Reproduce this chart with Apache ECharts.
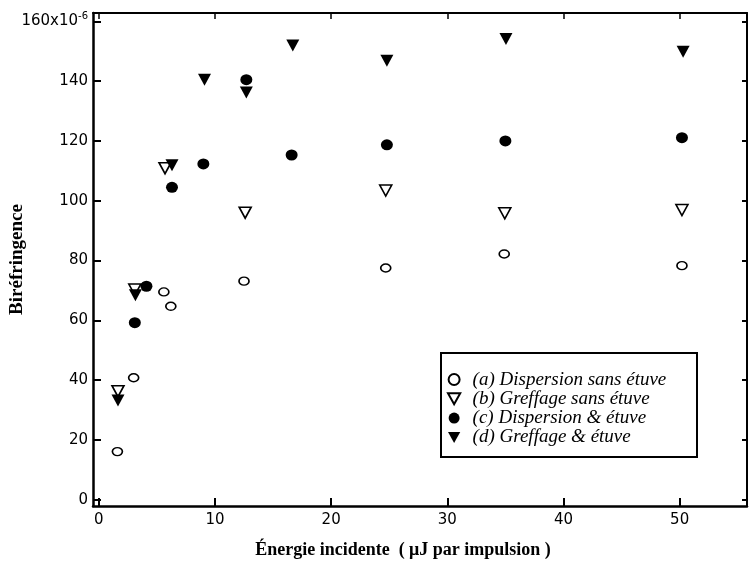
<!DOCTYPE html>
<html>
<head>
<meta charset="utf-8">
<script src="https://cdn.jsdelivr.net/npm/echarts@6/dist/echarts.min.js"></script>
<style>html,body{margin:0;padding:0;background:#fff}#c{width:749px;height:568px}</style>
</head>
<body>
<div id="c"></div>
<script>
// Energy (µJ per pulse) and birefringence (×10^-6)
const xA = [1.6, 3.0, 5.6, 6.2, 12.5, 24.7, 34.9, 50.2];
const yA = [16.1, 40.8, 69.5, 64.7, 73.1, 77.5, 82.2, 78.3];
const xB = [1.65, 3.1, 5.7, 12.6, 24.7, 34.95, 50.2];
const yB = [36.3, 70.3, 110.9, 96.0, 103.4, 95.8, 96.9];
const xC = [3.1, 4.1, 6.3, 9.0, 12.7, 16.6, 24.8, 35.0, 50.2];
const yC = [59.2, 71.4, 104.5, 112.3, 140.5, 115.3, 118.7, 120.0, 121.1];
const xD = [1.65, 3.15, 6.3, 9.1, 12.7, 16.7, 24.8, 35.05, 50.3];
const yD = [33.2, 68.4, 111.9, 140.5, 136.2, 151.9, 146.8, 154.1, 149.8];
const seriesNames = ['(a) Dispersion sans étuve', '(b) Greffage sans étuve', '(c) Dispersion & étuve', '(d) Greffage & étuve'];
const xTicks = [0, 10, 20, 30, 40, 50];
const yTicks = [0, 20, 40, 60, 80, 100, 120, 140, 160];
const xTitle = 'Énergie incidente  ( μJ par impulsion )';
const yTitle = 'Biréfringence';

const zip = (xs, ys) => xs.map((x, i) => [x, ys[i]]);
const tri = 'path://M0,0L20,0L10,18Z';
const chart = echarts.init(document.getElementById('c'), null, {renderer: 'canvas'});
const tickFont = {fontFamily: 'DejaVu Sans', fontSize: 15, color: '#000'};
chart.setOption({
  backgroundColor: '#fff',
  animation: false,
  grid: {left: 93, right: 2, top: 13, bottom: 62, containLabel: false, outerBoundsMode: 'none'},
  xAxis: [{
    type: 'value', min: -0.5, max: 55.8, position: 'bottom',
    axisLine: {show: true, onZero: false, lineStyle: {color: '#000', width: 2.5}},
    axisTick: {show: true, inside: true, length: 8, customValues: xTicks, lineStyle: {color: '#000', width: 2}},
    axisLabel: Object.assign({margin: 7, customValues: xTicks}, tickFont),
    splitLine: {show: false},
    name: xTitle, nameLocation: 'middle', nameGap: 35,
    nameTextStyle: {fontFamily: 'Liberation Serif', fontWeight: 'bold', fontSize: 18, color: '#000', padding: [0, 34, 0, 0]}
  }, {
    type: 'value', min: -0.5, max: 55.8, position: 'top',
    axisLine: {show: true, onZero: false, lineStyle: {color: '#000', width: 2}},
    axisTick: {show: true, inside: true, length: 6, customValues: xTicks, lineStyle: {color: '#000', width: 1.5}},
    axisLabel: {show: false}, splitLine: {show: false}
  }],
  yAxis: [{
    type: 'value', min: -2.1, max: 162.8, position: 'left',
    axisLine: {show: true, onZero: false, lineStyle: {color: '#000', width: 2.5}},
    axisTick: {show: true, inside: true, length: 8, customValues: yTicks, lineStyle: {color: '#000', width: 2}},
    axisLabel: Object.assign({
      margin: 5, customValues: yTicks,
      formatter: v => v === 160 ? '160x10{sup|-6}' : String(v),
      rich: {sup: {fontFamily: 'DejaVu Sans', fontSize: 10, color: '#000', verticalAlign: 'top', padding: [0, 0, 10, 0]}}
    }, tickFont),
    splitLine: {show: false},
    name: yTitle, nameLocation: 'middle', nameGap: 66, nameRotate: 90, nameMoveOverlap: false,
    nameTextStyle: {fontFamily: 'Liberation Serif', fontWeight: 'bold', fontSize: 19, color: '#000', padding: [0, 0, 0, 0]}
  }, {
    type: 'value', min: -2.1, max: 162.8, position: 'right',
    axisLine: {show: true, onZero: false, lineStyle: {color: '#000', width: 2}},
    axisTick: {show: true, inside: true, length: 5, customValues: yTicks, lineStyle: {color: '#000', width: 2}},
    axisLabel: {show: false}, splitLine: {show: false}
  }],
  legend: {
    orient: 'vertical', left: 441, top: 353,
    padding: [17, 0, 0, 6], itemWidth: 25, itemHeight: 11, itemGap: 0.3,
    textStyle: {fontFamily: 'Liberation Serif', fontStyle: 'italic', fontSize: 19, lineHeight: 18, color: '#000', padding: [0, 0, 0, 1]},
    data: seriesNames
  },
  graphic: [{
    type: 'rect', shape: {x: 441, y: 353, width: 256, height: 104},
    style: {fill: 'none', stroke: '#000', lineWidth: 2}, z: 1
  }],
  series: [{
    name: seriesNames[0], type: 'scatter', data: zip(xA, yA),
    symbol: 'circle', symbolSize: [10, 8],
    itemStyle: {color: '#fff', borderColor: '#000', borderWidth: 1.5, opacity: 1}
  }, {
    name: seriesNames[1], type: 'scatter', data: zip(xB, yB),
    symbol: tri, symbolSize: [12, 11],
    itemStyle: {color: '#fff', borderColor: '#000', borderWidth: 1.6, opacity: 1}
  }, {
    name: seriesNames[2], type: 'scatter', data: zip(xC, yC),
    symbol: 'circle', symbolSize: [12, 11],
    itemStyle: {color: '#000', opacity: 1}
  }, {
    name: seriesNames[3], type: 'scatter', data: zip(xD, yD),
    symbol: tri, symbolSize: [13, 12],
    itemStyle: {color: '#000', opacity: 1}
  }]
});
</script>
</body>
</html>
